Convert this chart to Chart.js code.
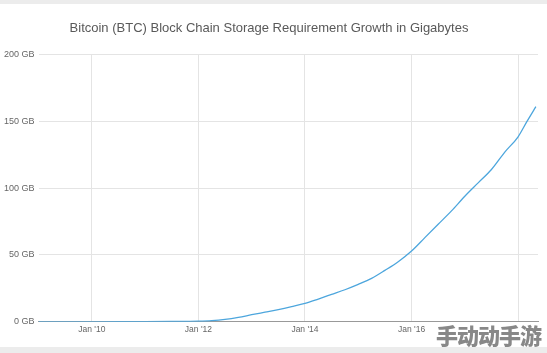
<!DOCTYPE html>
<html>
<head>
<meta charset="utf-8">
<script src="https://cdn.jsdelivr.net/npm/chart.js@4"></script>
<style>
  html, body { margin: 0; padding: 0; background: #fff; }
  #wrap { position: relative; width: 547px; height: 353px; overflow: hidden; }
  .band { position: absolute; left: 0; width: 547px; background: #ececec; }
  #mark {
    position: absolute; right: 6px; top: 318px;
    font-family: "Noto Sans CJK SC", sans-serif; font-weight: 900;
    font-size: 22px; letter-spacing: -1px; color: rgba(115, 115, 115, 0.85);
  }
</style>
</head>
<body>
<div id="wrap">
  <canvas id="storageChart" width="547" height="353"></canvas>
  <div class="band" style="top:0;height:4px"></div>
  <div class="band" style="top:347px;height:6px"></div>
  <div id="mark">手动动手游</div>
</div>
<script>
// quarterly samples
const dates = [
  "2009-01", "2009-04", "2009-07", "2009-10",
  "2010-01", "2010-07", "2011-01", "2011-07",
  "2012-01", "2012-04", "2012-07", "2012-10",
  "2013-01", "2013-04", "2013-07", "2013-10",
  "2014-01", "2014-04", "2014-07", "2014-10",
  "2015-01", "2015-04", "2015-07", "2015-10",
  "2016-01", "2016-04", "2016-07", "2016-10",
  "2017-01", "2017-04", "2017-07", "2017-10",
  "2018-01", "2018-03", "2018-05",
];
const sizeGB = [
  0, 0, 0, 0,
  0, 0.02, 0.1, 0.25,
  0.5, 0.9, 1.8, 3.3,
  5.3, 7.2, 9.1, 11.3,
  13.7, 17, 20.5, 24,
  28, 32.5, 38.5, 45,
  53, 63, 73, 83,
  94, 104, 114, 127,
  138.5, 150, 161,
];
const xTicks = [2010, 2012, 2014, 2016, 2018];
const yTicks = [0, 50, 100, 150, 200];

const toYear = (d) => {
  const [y, m] = d.split("-").map(Number);
  return y + (m - 1) / 12;
};

const ctx = document.getElementById("storageChart").getContext("2d");
new Chart(ctx, {
  type: "line",
  data: {
    datasets: [
      {
        label: "Block chain size",
        data: dates.map((d, i) => ({ x: toYear(d), y: sizeGB[i] })),
        borderColor: "#4da6dd",
        borderWidth: 1.3,
        pointRadius: 0,
        cubicInterpolationMode: "monotone",
        fill: false,
      },
    ],
  },
  options: {
    responsive: false,
    animation: false,
    layout: { padding: { left: 0, right: 9, top: 0, bottom: 15 } },
    plugins: {
      legend: { display: false },
      tooltip: { enabled: false },
      title: {
        display: true,
        text: "Bitcoin (BTC) Block Chain Storage Requirement Growth in Gigabytes",
        color: "#595959",
        font: { family: "Liberation Sans, Arial, sans-serif", size: 13, weight: "normal" },
        padding: { top: 21, bottom: 18 },
      },
    },
    scales: {
      x: {
        type: "linear",
        min: 2009,
        max: toYear("2018-05") + 0.04,
        afterBuildTicks: (axis) => {
          axis.ticks = xTicks.map((v) => ({ value: v }));
        },
        ticks: {
          color: "#666",
          font: { family: "Liberation Sans, Arial, sans-serif", size: 8.5 },
          padding: 3,
          maxRotation: 0,
          callback: (v) => (v === 2018 ? "" : "Jan '" + String(v).slice(2)),
        },
        grid: { color: "#e4e4e4", drawTicks: false },
        border: { color: "#999" },
      },
      y: {
        min: 0,
        max: 200,
        afterBuildTicks: (axis) => {
          axis.ticks = yTicks.map((v) => ({ value: v }));
        },
        ticks: {
          color: "#666",
          font: { family: "Liberation Sans, Arial, sans-serif", size: 9 },
          padding: 4,
          callback: (v) => v + " GB",
        },
        grid: { color: "#e4e4e4", drawTicks: false },
        border: { display: false },
      },
    },
  },
});
</script>
</body>
</html>
